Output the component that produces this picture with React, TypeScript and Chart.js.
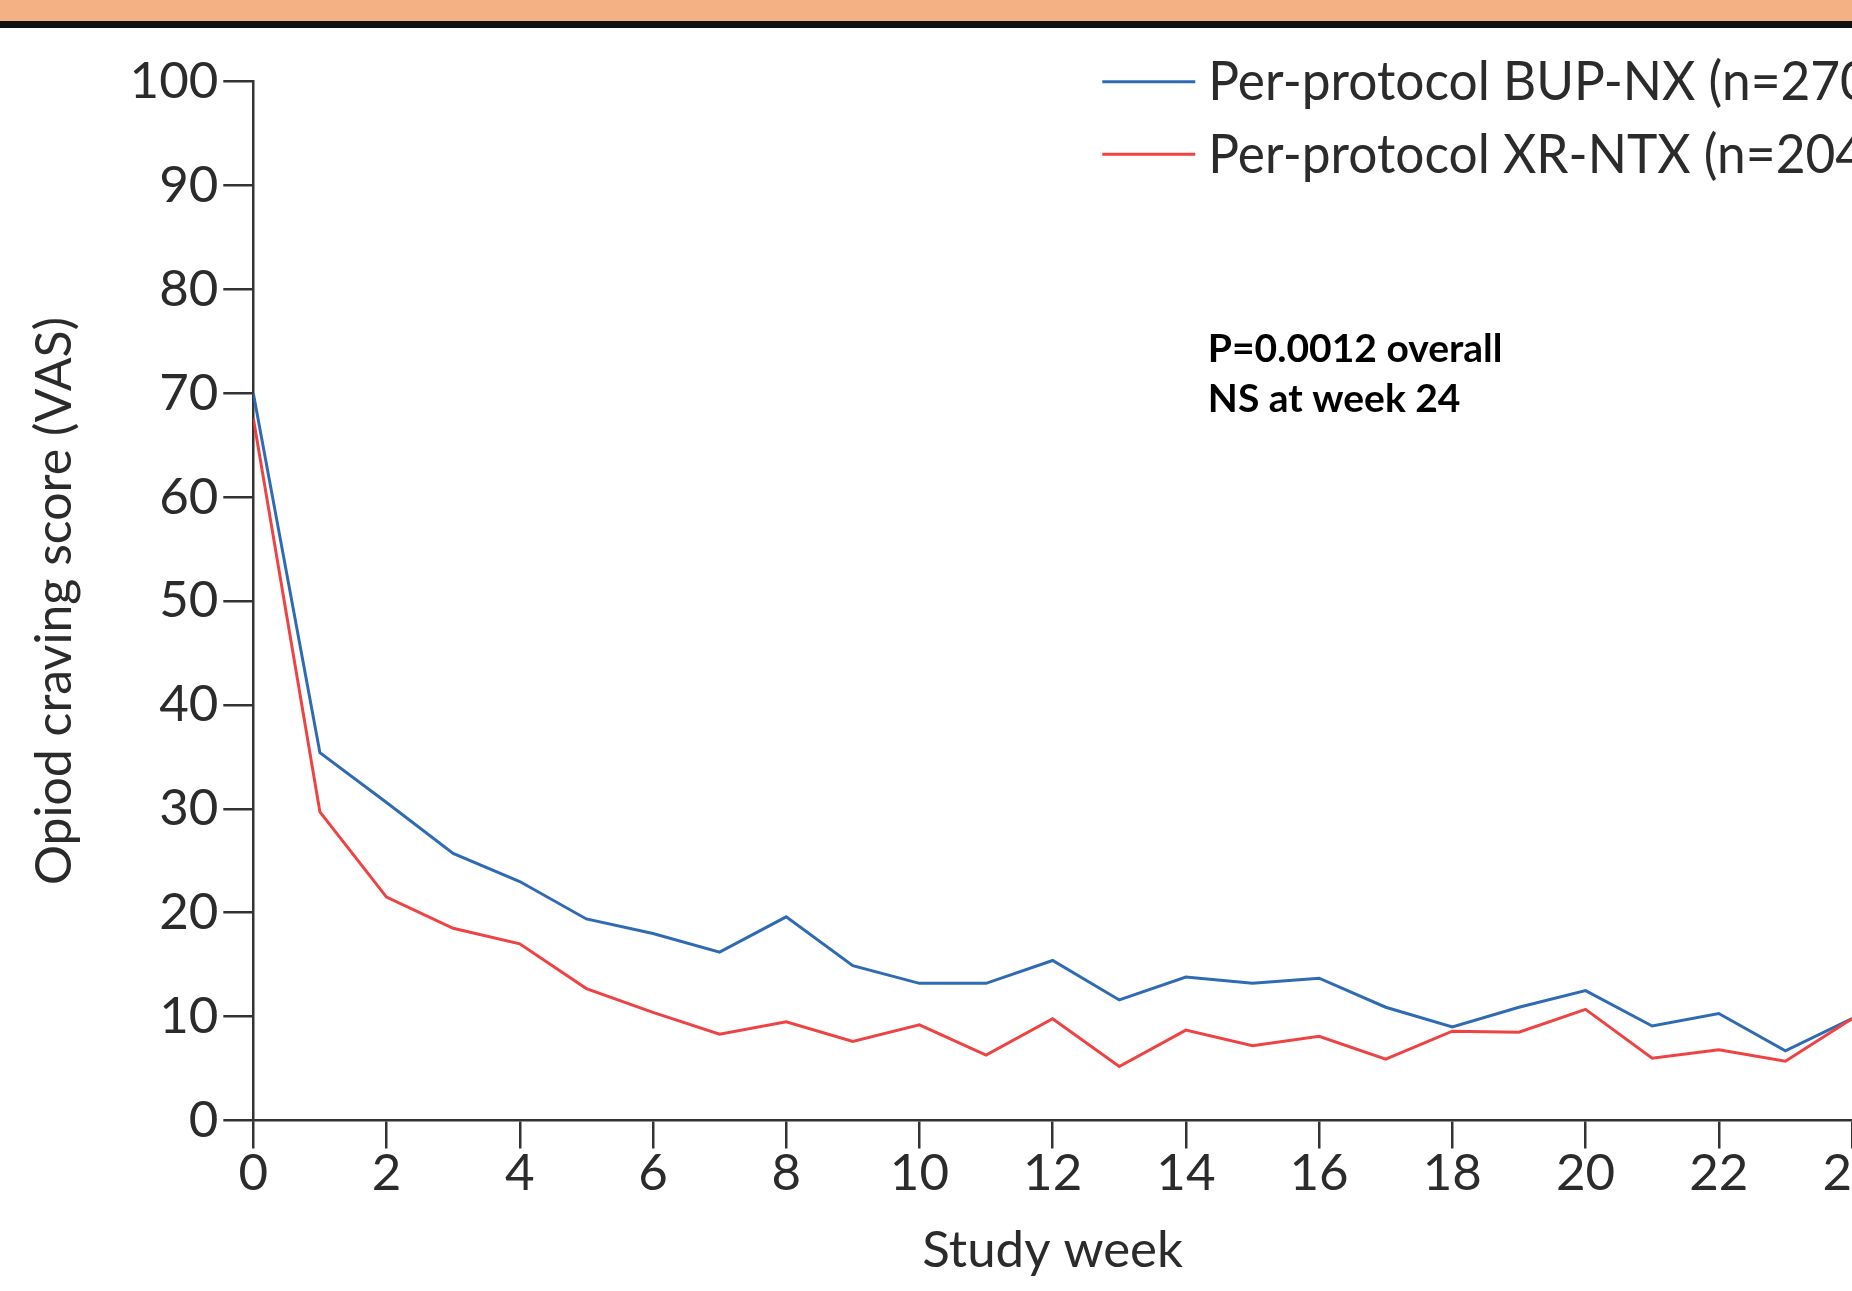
import React, { useEffect, useRef } from 'react';
import { Chart, registerables } from 'chart.js';

Chart.register(...registerables);

// ---------- data ----------
const weeks = [0, 1, 2, 3, 4, 5, 6, 7, 8, 9, 10, 11, 12, 13, 14, 15, 16, 17, 18, 19, 20, 21, 22, 23, 24];
const bupNxCraving = [70.0, 35.4, 30.6, 25.7, 23.0, 19.4, 18.0, 16.2, 19.6, 14.9, 13.2, 13.2, 15.4, 11.6, 13.8, 13.2, 13.7, 10.9, 9.0, 10.9, 12.5, 9.1, 10.3, 6.7, 9.8];
const xrNtxCraving = [67.6, 29.7, 21.5, 18.5, 17.0, 12.7, 10.4, 8.3, 9.5, 7.6, 9.2, 6.3, 9.8, 5.2, 8.7, 7.2, 8.1, 5.9, 8.6, 8.5, 10.7, 6.0, 6.8, 5.7, 9.8];
const seriesLabels = ['Per-protocol BUP-NX (n=270)', 'Per-protocol XR-NTX (n=204)'];
const xTickStep = 2;
const yTickStep = 10;
const annotationLines = ['P=0.0012 overall', 'NS at week 24'];
const xTitle = 'Study week';
const yTitle = 'Opiod craving score (VAS)';

// ---------- styles ----------
const FONT = "Lato, 'Open Sans', sans-serif";
const TEXT = '#2b2b2b';
const AXIS = '#333333';
const BLUE = '#2f6bb3';
const RED = '#ef4242';

Chart.defaults.font.family = FONT;

const CANVAS_W = 2000;
const CANVAS_H = 1291;

const overlayPlugin = {
  id: 'overlay',
  afterDraw(chart: any) {
    const { ctx, chartArea, scales } = chart;
    ctx.save();
    // legend (top right, inside plot)
    const lx = chartArea.left + 849;
    chart.data.datasets.forEach((ds: any, i: number) => {
      const y = chartArea.top + 0.2 + i * 72.6;
      ctx.strokeStyle = ds.borderColor;
      ctx.lineWidth = 3;
      ctx.beginPath();
      ctx.moveTo(lx, y);
      ctx.lineTo(lx + 93, y);
      ctx.stroke();
      ctx.save();
      ctx.translate(lx + 106, y + 18.3);
      ctx.scale(0.935, 1);
      ctx.fillStyle = TEXT;
      ctx.font = `55px ${FONT}`;
      ctx.textAlign = 'left';
      ctx.textBaseline = 'alphabetic';
      ctx.fillText(ds.label, 0, 0);
      ctx.restore();
    });
    // annotation
    ctx.font = `bold 39px ${FONT}`;
    ctx.fillStyle = '#000';
    ctx.textAlign = 'left';
    ctx.textBaseline = 'alphabetic';
    const ax = scales.x.getPixelForValue(14.33);
    const ay = scales.y.getPixelForValue(73.0);
    annotationLines.forEach((t, i) => ctx.fillText(t, ax, ay + i * 50));
    ctx.restore();
  },
};

export default function App() {
  const ref = useRef<HTMLCanvasElement>(null);

  useEffect(() => {
    if (!ref.current) return;
    const chart = new Chart(ref.current, {
      type: 'line',
      data: {
        datasets: [
          {
            label: seriesLabels[0],
            data: weeks.map((w, i) => ({ x: w, y: bupNxCraving[i] })),
            borderColor: BLUE,
            backgroundColor: BLUE,
            borderWidth: 3,
            pointRadius: 0,
            tension: 0,
            order: 1,
          },
          {
            label: seriesLabels[1],
            data: weeks.map((w, i) => ({ x: w, y: xrNtxCraving[i] })),
            borderColor: RED,
            backgroundColor: RED,
            borderWidth: 3,
            pointRadius: 0,
            tension: 0,
            order: 0,
          },
        ],
      },
      options: {
        responsive: false,
        animation: false,
        events: [],
        layout: { padding: { left: 0, right: CANVAS_W - 1852, top: 81.5, bottom: 0 } },
        plugins: {
          legend: { display: false },
          tooltip: { enabled: false },
        },
        scales: {
          x: {
            type: 'linear',
            min: weeks[0],
            max: weeks[weeks.length - 1],
            afterFit: (s: any) => {
              s.height = 170.5;
            },
            ticks: {
              stepSize: xTickStep,
              autoSkip: false,
              maxRotation: 0,
              color: TEXT,
              padding: 0,
              font: { size: 51, lineHeight: 1 },
            },
            grid: {
              drawOnChartArea: false,
              drawTicks: true,
              tickLength: 28,
              tickWidth: 2.5,
              color: AXIS,
              lineWidth: 2.5,
            },
            border: { display: true, color: AXIS, width: 2.5 },
            title: {
              display: true,
              text: xTitle,
              color: TEXT,
              font: { size: 51, lineHeight: 1.2 },
              padding: { top: 0, bottom: 9.6 },
            },
          },
          y: {
            type: 'linear',
            min: 0,
            max: 100,
            afterFit: (s: any) => {
              s.width = 253.3;
            },
            ticks: {
              stepSize: yTickStep,
              color: TEXT,
              padding: 5,
              font: { size: 51, lineHeight: 1 },
            },
            grid: {
              drawOnChartArea: false,
              drawTicks: true,
              tickLength: 30,
              tickWidth: 2.5,
              color: AXIS,
              lineWidth: 2.5,
            },
            border: { display: true, color: AXIS, width: 2.5 },
            title: {
              display: true,
              text: yTitle,
              color: TEXT,
              font: { size: 50, lineHeight: 1.2 },
              padding: { top: 25, bottom: 0 },
            },
          },
        },
      },
      plugins: [overlayPlugin],
    } as any);
    return () => chart.destroy();
  }, []);

  return (
    <div
      style={{
        position: 'fixed',
        left: 0,
        top: 0,
        width: 1852,
        height: 1291,
        overflow: 'hidden',
        background: '#ffffff',
      }}
    >
      <canvas
        ref={ref}
        width={CANVAS_W}
        height={CANVAS_H}
        style={{ position: 'absolute', left: 0, top: 0, width: CANVAS_W, height: CANVAS_H }}
      />
      <div style={{ position: 'absolute', left: 0, top: 0, width: '100%', height: 21, background: '#f4b183' }} />
      <div style={{ position: 'absolute', left: 0, top: 21, width: '100%', height: 7, background: '#111111' }} />
    </div>
  );
}
